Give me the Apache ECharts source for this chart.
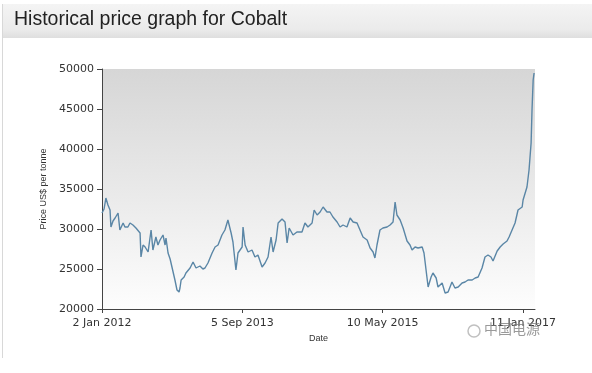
<!DOCTYPE html>
<html>
<head>
<meta charset="utf-8">
<script src="https://cdn.jsdelivr.net/npm/echarts@6/dist/echarts.min.js"></script>
<style>
html,body{margin:0;padding:0;background:#fff;}
#c{width:592px;height:373px;}
</style>
</head>
<body>
<div id="c"></div>
<script>
// Days since 2 Jan 2012
var dayOffsets = [0,9,17,26,35,39,48,57,70,78,92,100,113,122,135,148,166,170,179,188,201,214,222,235,244,253,266,275,279,288,297,305,318,327,336,340,345,358,366,384,397,410,427,440,449,462,480,493,506,523,536,549,563,571,584,593,611,615,624,637,654,667,680,698,711,724,737,746,759,768,785,798,807,816,833,850,872,885,898,916,925,938,951,964,981,994,1007,1025,1038,1051,1068,1082,1095,1112,1125,1138,1156,1169,1182,1190,1199,1212,1225,1243,1256,1269,1278,1286,1300,1313,1330,1343,1352,1365,1378,1396,1404,1413,1422,1435,1443,1457,1465,1483,1496,1509,1526,1539,1553,1570,1583,1596,1614,1627,1640,1657,1670,1683,1696,1705,1723,1736,1749,1766,1775,1788,1801,1814,1832,1836,1853,1862,1871,1875,1880,1884];
var prices = [32000,32500,33875,33000,32375,30250,31000,31375,32000,29875,30750,30250,30250,30750,30500,30125,29500,26500,28000,27750,27125,29875,27375,29000,28000,28625,29250,28000,28875,27000,26250,25250,23625,22375,22125,22625,23625,24000,24500,25125,25875,25125,25375,25000,25125,25750,27000,27750,28000,29250,29875,31125,29500,28375,24875,27000,27750,30250,28000,27125,27375,26500,26750,25250,25750,26500,29000,27125,28625,30750,31250,30875,28250,30125,29250,29625,29625,30750,30250,30750,32375,31750,32125,32750,32125,32125,31500,30875,30250,30500,30250,31375,30875,30750,29875,29000,28625,27625,27125,26375,28000,29875,30125,30250,30500,30875,33375,31750,31125,30125,28500,28000,27375,27750,27625,27750,27000,24875,22750,24000,24500,23875,22750,23250,22000,22125,23375,22625,22750,23250,23375,23625,23625,23875,24000,25125,26500,26750,26500,26000,27250,27750,28125,28500,29000,29875,30750,32375,32750,33625,35250,37375,40750,44875,48625,49500];
var tickDays = [0,612,1224,1836];
var tickLabels = ['2 Jan 2012','5 Sep 2013','10 May 2015','11 Jan 2017'];

var labelMap = {};
tickDays.forEach(function(d,i){ labelMap[d] = tickLabels[i]; });
var seriesData = dayOffsets.map(function(d,i){ return [d, prices[i]]; });

var chart = echarts.init(document.getElementById('c'), null, {renderer:'canvas'});
chart.setOption({
  animation:false,
  backgroundColor:'#ffffff',
  graphic:[
    {type:'rect', z:-10, shape:{x:2,y:4,width:590,height:34},
     style:{fill:new echarts.graphic.LinearGradient(0,0,0,1,[{offset:0,color:'#f4f4f4'},{offset:0.75,color:'#ebebeb'},{offset:1,color:'#dedede'}])}},
    {type:'rect', z:-10, shape:{x:2,y:4,width:1,height:354}, style:{fill:'#d8d8d8'}},
    {type:'text', left:14, top:10, style:{text:'Historical price graph for Cobalt', fontFamily:'Liberation Sans, Arial, sans-serif', fontSize:19.5, fill:'#222'}},
    {type:'text', left:484, top:322, z:100, style:{text:'中国电源', fontFamily:'Noto Sans CJK SC', fontSize:14, fill:'rgba(120,120,120,0.75)'}},
    {type:'circle', z:100, shape:{cx:474, cy:331, r:6}, style:{fill:'none', stroke:'rgba(150,150,150,0.6)', lineWidth:1.5}}
  ],
  grid:{left:102, right:57, top:69, bottom:64, show:true, borderWidth:0,
    backgroundColor:new echarts.graphic.LinearGradient(0,0,0,1,[{offset:0,color:'#d6d6d6'},{offset:0.5,color:'#e9e9e9'},{offset:1,color:'#fdfdfd'}])},
  xAxis:{
    type:'value', min:0, max:1888,
    name:'Date', nameLocation:'middle', nameGap:25,
    nameTextStyle:{fontFamily:'Liberation Sans, Arial, sans-serif', fontSize:9, color:'#333'},
    axisLine:{show:true, lineStyle:{color:'#444', width:1}},
    axisTick:{show:true, length:4, customValues:tickDays, lineStyle:{color:'#444'}},
    axisLabel:{customValues:tickDays, margin:9, fontFamily:'DejaVu Sans, sans-serif', fontSize:11, color:'#333',
      formatter:function(v){ return labelMap[v] || ''; }},
    splitLine:{show:false}
  },
  yAxis:{
    type:'value', min:20000, max:50000, interval:5000,
    name:'Price US$ per tonne', nameLocation:'middle', nameGap:41, nameRotate:90,
    nameTextStyle:{fontFamily:'Liberation Sans, Arial, sans-serif', fontSize:9, color:'#333'},
    axisLine:{show:true, lineStyle:{color:'#444', width:1}},
    axisTick:{show:true, length:5, lineStyle:{color:'#444'}},
    axisLabel:{margin:8, fontFamily:'DejaVu Sans, sans-serif', fontSize:11, color:'#333',
      formatter:function(v){ return String(v); }},
    splitLine:{show:false}
  },
  series:[{
    type:'line', data:seriesData, showSymbol:false, symbol:'none',
    lineStyle:{color:'#5a86a6', width:1.4}
  }]
});
</script>
</body>
</html>
